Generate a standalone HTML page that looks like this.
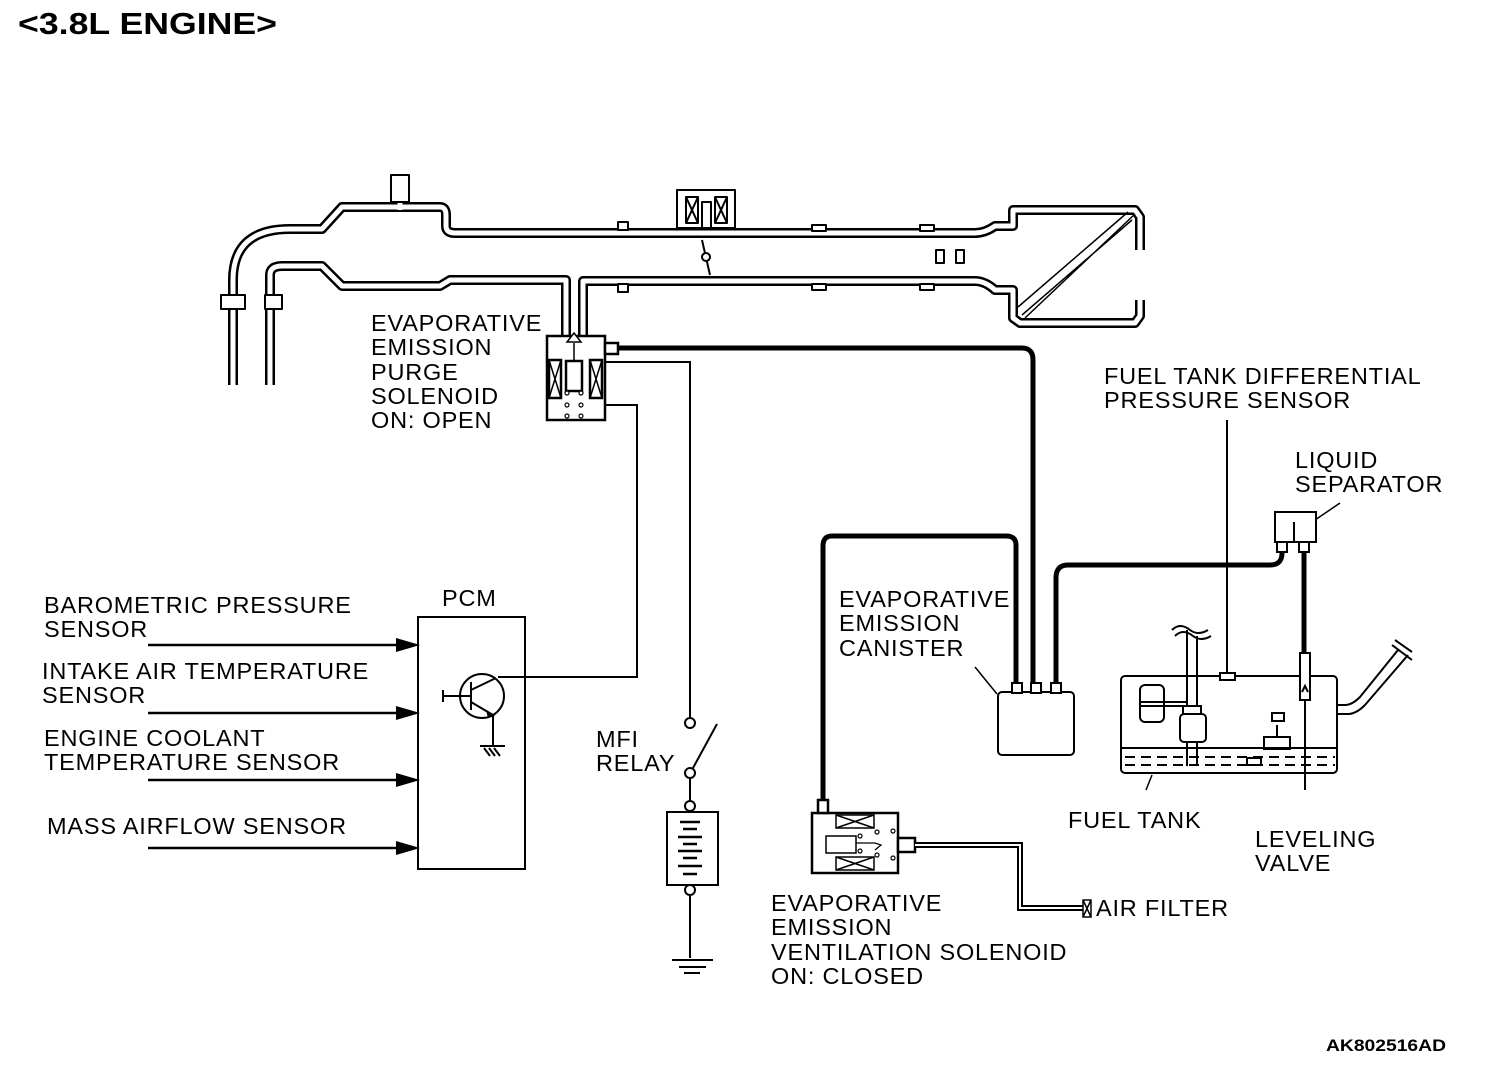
<!DOCTYPE html>
<html><head><meta charset="utf-8"><style>
html,body{margin:0;padding:0;background:#fff}
svg{display:block}
text{font-family:"Liberation Sans",Arial,sans-serif;font-size:23.5px;letter-spacing:0.8px;fill:#000}
</style></head><body>
<svg width="1504" height="1070" viewBox="0 0 1504 1070" xmlns="http://www.w3.org/2000/svg">
<text x="18" y="34" style="font-size:31px;font-weight:bold;letter-spacing:0" textLength="259" lengthAdjust="spacingAndGlyphs">&lt;3.8L ENGINE&gt;</text>

<g fill="none" stroke-linejoin="round">
 <g stroke="#000" stroke-width="10">
  <path d="M233,385 V280 Q233,229 290,229 H322 L342,207 H440 Q446,207 446,215 V226 Q446,233 455,233 H975 Q985,233 995,226 H1013 V210 H1135 L1140,217 V250"/>
  <path d="M270,385 V275 Q270,266 282,266 H322 L342,286 H440 L450,280 H566 V335"/>
  <path d="M583,335 V281 H975 Q985,281 995,290 H1013 V318 L1020,323 H1135 L1140,316 V300"/>
  <path d="M400,175 V207"/>
 </g>
 <g stroke="#fff" stroke-width="5">
  <path d="M233,390 V280 Q233,229 290,229 H322 L342,207 H440 Q446,207 446,215 V226 Q446,233 455,233 H975 Q985,233 995,226 H1013 V210 H1135 L1140,217 V250"/>
  <path d="M270,390 V275 Q270,266 282,266 H322 L342,286 H440 L450,280 H566 V340"/>
  <path d="M583,340 V281 H975 Q985,281 995,290 H1013 V318 L1020,323 H1135 L1140,316 V300"/>
  <path d="M400,172 V210"/>
 </g>
 <rect x="391" y="175" width="18" height="27" fill="#fff" stroke="#000" stroke-width="2"/>
 <g stroke="#000" stroke-width="2" fill="#fff">
  <rect x="221" y="295" width="24" height="14"/><rect x="265" y="295" width="17" height="14"/>
  <rect x="618" y="222" width="10" height="8"/><rect x="618" y="284" width="10" height="8"/>
  <rect x="812" y="225" width="14" height="6"/><rect x="812" y="284" width="14" height="6"/>
  <rect x="920" y="225" width="14" height="6"/><rect x="920" y="284" width="14" height="6"/>
 </g>
 <g stroke="#000" stroke-width="2" fill="#fff">
  <rect x="677" y="190" width="58" height="38"/>
  <rect x="686" y="197" width="12" height="26"/><rect x="715" y="197" width="12" height="26"/>
  <rect x="702" y="202" width="9" height="26"/>
  <path d="M686,197 L698,223 M698,197 L686,223 M715,197 L727,223 M727,197 L715,223"/>
  <path d="M702,240 L710,275"/><circle cx="706" cy="257" r="4"/>
  <rect x="936" y="250" width="8" height="13"/><rect x="956" y="250" width="8" height="13"/>
  <path d="M1018,307 L1128,212 M1022,315 L1132,220 M1025,318 L1135,214" stroke-width="1.5"/>
 </g>
</g>

<g stroke="#000" stroke-width="2.5" fill="#fff">
 <rect x="547" y="336" width="58" height="84"/>
 <rect x="605" y="343" width="13" height="11"/>
 <rect x="549" y="360" width="12" height="38"/><rect x="590" y="360" width="12" height="38"/>
 <path d="M549,360 L561,398 M561,360 L549,398 M590,360 L602,398 M602,360 L590,398" stroke-width="1.5"/>
 <rect x="566" y="361" width="16" height="30"/>
 <path d="M574,361 V343" stroke-width="1.5"/>
 <path d="M567,342 L574,333 L581,342 Z" stroke-width="1.5"/>
 <g stroke-width="1.2"><circle cx="567" cy="393" r="2"/><circle cx="581" cy="393" r="2"/><circle cx="567" cy="405" r="2"/><circle cx="581" cy="405" r="2"/><circle cx="567" cy="416" r="2"/><circle cx="581" cy="416" r="2"/></g>
</g>

<g fill="none" stroke="#000" stroke-width="5" stroke-linejoin="round">
 <path d="M618,348 H1022 Q1033,348 1033,360 V682"/>
 <path d="M1016,682 V545 Q1016,536 1006,536 H832 Q823,536 823,546 V800"/>
 <path d="M1056,682 V578 Q1056,565 1068,565 H1270 Q1282,565 1282,553 V545"/>
 <path d="M1304,545 V655"/>
</g>

<g fill="none" stroke="#000" stroke-width="2">
 <path d="M605,362 H690 V717"/>
 <path d="M605,405 H637 V677 H498"/>
 <path d="M690,779 V800 M690,896 V958"/>
 <path d="M693,768 L717,724"/>
 <path d="M672,960 H713 M679,967 H706 M684,973 H700"/>
 <path d="M1227,420 V673"/>
 <path d="M1305,700 V790"/>
 <path d="M997,694 L975,667" stroke-width="1.5"/>
 <path d="M1315,520 L1340,503" stroke-width="1.5"/>
 <path d="M1152,775 L1146,790" stroke-width="1.5"/>
</g>
<g fill="#fff" stroke="#000" stroke-width="2">
 <circle cx="690" cy="723" r="5"/><circle cx="690" cy="773" r="5"/>
 <circle cx="690" cy="806" r="5"/><circle cx="690" cy="890" r="5"/>
 <rect x="667" y="812" width="51" height="73"/>
</g>
<g stroke="#000" stroke-width="2.5">
 <path d="M680,822 H700 M683,829 H697 M678,837 H702 M683,844 H697 M678,851 H702 M683,858 H697 M678,866 H702 M683,874 H697"/>
</g>

<rect x="418" y="617" width="107" height="252" fill="none" stroke="#000" stroke-width="2"/>
<text x="442" y="606">PCM</text>
<g stroke="#000" stroke-width="2.5"><path d="M148,645 H400 M148,713 H400 M148,780 H400 M148,848 H400"/></g>
<g fill="#000"><path d="M396,638 L420,645 L396,652Z M396,706 L420,713 L396,720Z M396,773 L420,780 L396,787Z M396,841 L420,848 L396,855Z"/></g>
<g fill="none" stroke="#000" stroke-width="2">
 <circle cx="482" cy="696" r="22"/>
 <path d="M444,696 H471 M443,690 V702 M471,682 V710 M471,690 L496,678 M471,702 L493,715 V746"/>
 <path d="M480,746 H505 M484,748 L490,756 M489,748 L495,756 M494,748 L500,756"/>
</g>
<path d="M486,710 L495,716 L488,718Z" fill="#000"/>

<g fill="#fff" stroke="#000" stroke-width="2">
 <rect x="998" y="692" width="76" height="63" rx="4"/>
 <rect x="1012" y="683" width="10" height="10"/><rect x="1031" y="683" width="10" height="10"/><rect x="1051" y="683" width="10" height="10"/>
</g>

<g fill="#fff" stroke="#000" stroke-width="2">
 <rect x="1275" y="512" width="41" height="30"/>
 <rect x="1277" y="542" width="10" height="10"/><rect x="1299" y="542" width="10" height="10"/>
 <path d="M1294,522 V542"/>
</g>

<g fill="none" stroke="#000" stroke-width="2">
 <rect x="1121" y="676" width="216" height="97" rx="4"/>
 <path d="M1121,748 H1337"/>
 <path d="M1125,757 H1335 M1125,765 H1335" stroke-dasharray="10,6"/>
 <path d="M1337,705 H1345 Q1352,705 1360,697 L1398,650 M1337,714 H1348 Q1356,714 1365,705 L1408,655"/>
 <path d="M1392,645 L1412,660 M1395,640 L1412,652"/>
 <path d="M1187,630 V712 M1197,636 V712"/>
 <path d="M1172,630 Q1180,622 1190,630 Q1198,636 1208,630 M1175,636 Q1183,628 1193,636 Q1201,642 1211,636"/>
 <rect x="1180" y="714" width="26" height="28" rx="4" fill="#fff"/>
 <rect x="1183" y="706" width="18" height="8" fill="#fff"/>
 <path d="M1187,742 V766 M1197,742 V766"/>
 <rect x="1140" y="685" width="24" height="37" rx="5"/>
 <path d="M1141,702 H1187 M1141,706 H1187"/>
 <rect x="1264" y="737" width="26" height="12"/><path d="M1277,725 V737"/><rect x="1272" y="713" width="12" height="8"/>
 <rect x="1247" y="758" width="14" height="7" fill="#fff"/>
 <rect x="1220" y="673" width="15" height="7" fill="#fff"/>
 <rect x="1300" y="653" width="10" height="47" fill="#fff"/>
 <path d="M1302,692 L1305,686 L1308,692"/>
</g>

<g fill="#fff" stroke="#000" stroke-width="2.5">
 <rect x="812" y="813" width="86" height="60"/>
 <rect x="818" y="800" width="10" height="13"/>
 <rect x="898" y="838" width="17" height="14"/>
 <rect x="836" y="815" width="38" height="13" stroke-width="1.5"/><rect x="836" y="857" width="38" height="13" stroke-width="1.5"/>
 <path d="M836,815 L874,828 M874,815 L836,828 M836,857 L874,870 M874,857 L836,870" stroke-width="1.5"/>
 <rect x="826" y="836" width="30" height="17" stroke-width="1.5"/>
 <path d="M856,843 H875 L881,845 L875,850" stroke-width="1.3" fill="none"/>
 <g stroke-width="1.2"><circle cx="860" cy="836" r="2"/><circle cx="860" cy="851" r="2"/><circle cx="877" cy="832" r="2"/><circle cx="877" cy="855" r="2"/><circle cx="893" cy="831" r="2"/><circle cx="893" cy="858" r="2"/></g>
</g>
<path d="M915,845 H1020 V908 H1083" fill="none" stroke="#000" stroke-width="6"/>
<path d="M915,845 H1020 V908 H1083" fill="none" stroke="#fff" stroke-width="2"/>
<g fill="#fff" stroke="#000" stroke-width="1.5"><rect x="1083" y="900" width="8" height="17"/><path d="M1083,900 L1091,917 M1091,900 L1083,917"/></g>

<text x="371" y="331">EVAPORATIVE</text>
<text x="371" y="355">EMISSION</text>
<text x="371" y="380">PURGE</text>
<text x="371" y="404">SOLENOID</text>
<text x="371" y="428">ON: OPEN</text>
<text x="1104" y="384">FUEL TANK DIFFERENTIAL</text>
<text x="1104" y="408">PRESSURE SENSOR</text>
<text x="1295" y="468">LIQUID</text>
<text x="1295" y="492">SEPARATOR</text>
<text x="44" y="613">BAROMETRIC PRESSURE</text>
<text x="44" y="637">SENSOR</text>
<text x="42" y="679">INTAKE AIR TEMPERATURE</text>
<text x="42" y="703">SENSOR</text>
<text x="44" y="746">ENGINE COOLANT</text>
<text x="44" y="770">TEMPERATURE SENSOR</text>
<text x="47" y="834">MASS AIRFLOW SENSOR</text>
<text x="839" y="607">EVAPORATIVE</text>
<text x="839" y="631">EMISSION</text>
<text x="839" y="656">CANISTER</text>
<text x="596" y="747">MFI</text>
<text x="596" y="771">RELAY</text>
<text x="1068" y="828">FUEL TANK</text>
<text x="1255" y="847">LEVELING</text>
<text x="1255" y="871">VALVE</text>
<text x="771" y="911">EVAPORATIVE</text>
<text x="771" y="935">EMISSION</text>
<text x="771" y="960">VENTILATION SOLENOID</text>
<text x="771" y="984">ON: CLOSED</text>
<text x="1096" y="916">AIR FILTER</text>
<text x="1326" y="1051" style="font-size:17px;font-weight:bold;letter-spacing:0" textLength="120" lengthAdjust="spacingAndGlyphs">AK802516AD</text>
</svg>
</body></html>
